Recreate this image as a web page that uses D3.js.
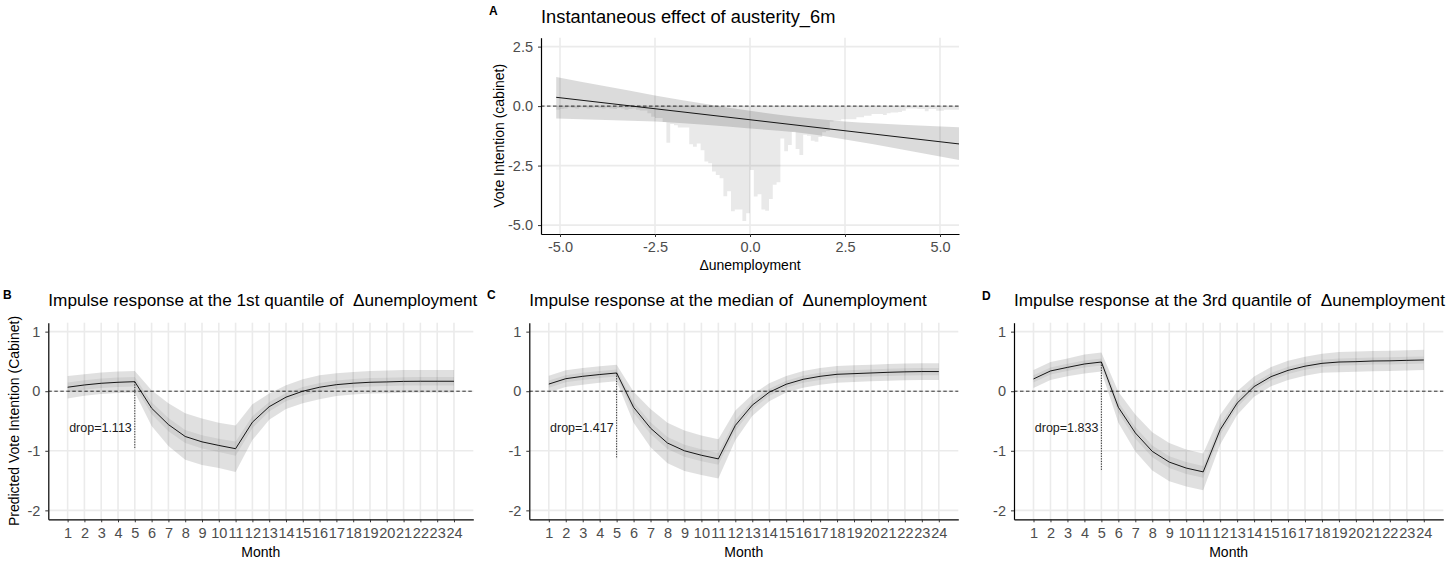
<!DOCTYPE html>
<html><head><meta charset="utf-8">
<script src="https://cdn.jsdelivr.net/npm/d3@7"></script>
<style>
html,body{margin:0;padding:0;background:#fff;}
svg{display:block;}
text{white-space:pre;}
</style></head><body>
<svg id="chart" width="1446" height="562"></svg>
<script>
// ---------------- DATA ----------------
// Panel A: instantaneous effect
const effectX = [-5.1, 5.5];
const effectY = [0.37, -1.59];
const bandX     = [-5.1, -3.8, -2.5, -1.2, 0, 1.2, 2.5, 4, 5.5];
const bandUpper = [1.22, 0.83, 0.45, 0.1, -0.2, -0.45, -0.65, -0.78, -0.89];
const bandLower = [-0.52, -0.58, -0.65, -0.78, -0.94, -1.1, -1.4, -1.82, -2.27];
// histogram of Δunemployment (drawn hanging below 0), bins of 0.1 from -5.1
const histStart = -5.1;
const histWidth = 0.1;
const histDepth = [
  0.15,0.12,0.1,0.05,0.08,0.1,0.05,0.06,0.1,0.08,0.05,
  0.08,0.1,0.06,0.1,0.12,0.08,0.1,0.15,0.12,0.1,
  0.15,0.18,0.18,0.3,0.45,0.5,0.5,0.67,1.54,0.75,
  0.8,0.9,0.9,0.9,1.6,1.71,1.57,1.85,2.33,2.4,
  2.75,2.9,3.03,3.79,3.58,4.42,4.35,4.35,4.83,4.5,
  2.68,3.8,3.7,4.35,4.4,3.9,3.3,3.2,1.36,1.9,
  1.63,1.08,1.8,2.05,1.2,1.25,1.46,1.5,1.3,1.1,
  1.05,0.65,0.6,0.6,0.55,0.55,0.55,0.55,0.47,0.47,
  0.4,0.4,0.33,0.33,0.33,0.37,0.3,0.27,0.27,0.25,
  0.2,0.1,0.1,0.1,0.12,0.12,0.22,0.12,0.12,0.2,
  0.2,0.15,0.15,0.15,0.15
];
const aXTicks = [-5, -2.5, 0, 2.5, 5];
const aYTicks = [2.5, 0, -2.5, -5];

// Panels B, C, D: impulse responses
const months = [1,2,3,4,5,6,7,8,9,10,11,12,13,14,15,16,17,18,19,20,21,22,23,24];
const irfYTicks = [1, 0, -1, -2];

const irfB = [0.067,0.105,0.133,0.15,0.16,-0.285,-0.56,-0.76,-0.85,-0.91,-0.965,-0.52,-0.26,-0.1,0.0,0.067,0.11,0.134,0.15,0.156,0.165,0.167,0.167,0.167];
const outerB = [0.19,0.18,0.18,0.18,0.18,0.3,0.36,0.39,0.39,0.38,0.39,0.3,0.22,0.2,0.2,0.2,0.19,0.19,0.19,0.19,0.19,0.19,0.19,0.19];
const innerB = [0.08,0.08,0.08,0.08,0.08,0.1,0.11,0.11,0.11,0.11,0.12,0.1,0.08,0.07,0.07,0.07,0.07,0.07,0.07,0.07,0.07,0.07,0.07,0.07];

const irfC = [0.12,0.21,0.25,0.28,0.306,-0.27,-0.62,-0.87,-1.0,-1.075,-1.136,-0.574,-0.234,-0.017,0.117,0.2,0.25,0.284,0.295,0.306,0.317,0.325,0.33,0.33];
const outerC = [0.14,0.14,0.14,0.14,0.14,0.26,0.32,0.34,0.34,0.33,0.33,0.25,0.18,0.15,0.14,0.14,0.14,0.14,0.14,0.14,0.14,0.14,0.14,0.14];
const innerC = [0.06,0.06,0.06,0.06,0.06,0.09,0.1,0.1,0.1,0.1,0.1,0.09,0.07,0.06,0.06,0.06,0.06,0.06,0.06,0.06,0.06,0.06,0.06,0.06];

const irfD = [0.206,0.34,0.40,0.457,0.49,-0.27,-0.70,-1.01,-1.19,-1.29,-1.354,-0.646,-0.2,0.078,0.245,0.35,0.42,0.468,0.49,0.496,0.507,0.51,0.518,0.524];
const outerD = [0.15,0.15,0.15,0.16,0.16,0.26,0.31,0.32,0.32,0.31,0.31,0.25,0.2,0.17,0.16,0.16,0.16,0.16,0.17,0.17,0.17,0.17,0.17,0.17];
const innerD = [0.06,0.06,0.06,0.06,0.06,0.09,0.1,0.1,0.1,0.1,0.1,0.09,0.07,0.06,0.06,0.06,0.06,0.06,0.06,0.06,0.06,0.06,0.06,0.06];

const panelLetters = ["A", "B", "C", "D"];
const titles = [
  "Instantaneous effect of austerity_6m",
  "Impulse response at the 1st quantile of  \u0394unemployment",
  "Impulse response at the median of  \u0394unemployment",
  "Impulse response at the 3rd quantile of  \u0394unemployment"
];
const drops = [1.113, 1.417, 1.833];
const dropMonth = 5;

// ---------------- DRAWING ----------------
const FONT = '"Liberation Sans", Arial, Helvetica, sans-serif';
const svg = d3.select('#chart');

function frame(p, x, y, xTicks, yTicks) {
  const g = svg.append('g');
  g.selectAll(null).data(yTicks).join('line')
    .attr('x1', p.left).attr('x2', p.right)
    .attr('y1', d => y(d)).attr('y2', d => y(d))
    .attr('stroke', '#ebebeb').attr('stroke-width', 1.6);
  g.selectAll(null).data(xTicks).join('line')
    .attr('x1', d => x(d)).attr('x2', d => x(d))
    .attr('y1', p.top).attr('y2', p.bottom)
    .attr('stroke', '#ebebeb').attr('stroke-width', 1.6);
  return g;
}

function axes(p, x, y, xTicks, yTicks, xFmt, yFmt) {
  const gx = svg.append('g').attr('transform', `translate(0,${p.bottom})`)
    .call(d3.axisBottom(x).tickValues(xTicks).tickFormat(xFmt).tickSize(3).tickSizeOuter(0).tickPadding(5));
  const gy = svg.append('g').attr('transform', `translate(${p.left},0)`)
    .call(d3.axisLeft(y).tickValues(yTicks).tickFormat(yFmt).tickSize(3).tickSizeOuter(0).tickPadding(5));
  [gx, gy].forEach(a => {
    a.attr('font-size', 14.5).attr('font-family', FONT);
    a.select('.domain').attr('stroke', '#000').attr('stroke-width', 1.2);
    a.selectAll('.tick line').attr('stroke', '#333').attr('stroke-width', 1);
    a.selectAll('.tick text').attr('fill', '#4d4d4d');
  });
}

function zeroLine(p, y) {
  svg.append('line').attr('x1', p.left).attr('x2', p.right)
    .attr('y1', y(0)).attr('y2', y(0))
    .attr('stroke', '#000').attr('stroke-width', 0.8).attr('stroke-dasharray', '3.5,2.5');
}

function txt(x, y, s, opts = {}) {
  const t = svg.append('text').attr('x', x).attr('y', y).text(s)
    .attr('font-family', FONT).attr('font-size', opts.size || 15)
    .attr('fill', opts.fill || '#000');
  if (opts.anchor) t.attr('text-anchor', opts.anchor);
  if (opts.weight) t.attr('font-weight', opts.weight);
  if (opts.rotate) t.attr('transform', `rotate(-90,${x},${y})`);
  return t;
}

// ---- Panel A ----
{
  const p = {left: 541, right: 959, top: 37.7, bottom: 234};
  const x = d3.scaleLinear().domain([-5.5, 5.5]).range([p.left, p.right]);
  const y = d3.scaleLinear().domain([-5.375, 2.875]).range([p.bottom, p.top]);
  const fmt = d => d.toFixed(1);
  frame(p, x, y, aXTicks, aYTicks);
  const clipId = 'clipA';
  svg.append('clipPath').attr('id', clipId).append('rect')
    .attr('x', p.left).attr('y', p.top).attr('width', p.right - p.left).attr('height', p.bottom - p.top);
  const gc = svg.append('g').attr('clip-path', `url(#${clipId})`);
  // histogram as one step shape
  const hist = histDepth.map((d, i) => ({x0: histStart + i * histWidth, d}));
  hist.push({x0: histStart + histDepth.length * histWidth, d: histDepth[histDepth.length - 1]});
  gc.append('path').datum(hist)
    .attr('d', d3.area().curve(d3.curveStepAfter).x(d => x(d.x0)).y0(y(0)).y1(d => y(-d.d)))
    .attr('fill', '#000').attr('fill-opacity', 0.085);
  // ribbon
  gc.append('path').datum(bandX.map((v, i) => [v, bandLower[i], bandUpper[i]]))
    .attr('d', d3.area().curve(d3.curveMonotoneX).x(d => x(d[0])).y0(d => y(d[1])).y1(d => y(d[2])))
    .attr('fill', '#000').attr('fill-opacity', 0.14);
  zeroLine(p, y);
  gc.append('path').datum(effectX.map((v, i) => [v, effectY[i]]))
    .attr('d', d3.line().x(d => x(d[0])).y(d => y(d[1])))
    .attr('fill', 'none').attr('stroke', '#000').attr('stroke-width', 0.9);
  axes(p, x, y, aXTicks, aYTicks, fmt, fmt);
  txt(489, 15, panelLetters[0], {size: 12, weight: 'bold'});
  txt(p.left, 23.3, titles[0], {size: 18.3});
  txt((p.left + p.right) / 2, 270, '\u0394unemployment', {size: 14, anchor: 'middle'});
  txt(504, (p.top + p.bottom) / 2, 'Vote Intention (cabinet)', {size: 14, anchor: 'middle', rotate: true});
}

// ---- Panels B, C, D ----
const irfPanels = [
  {p: {left: 48.3, right: 473.3, top: 322.7, bottom: 519.3}, v: irfB, outer: outerB, inner: innerB, letterX: 3, letterY: 299},
  {p: {left: 529.3, right: 958.3, top: 322.7, bottom: 519.3}, v: irfC, outer: outerC, inner: innerC, letterX: 487, letterY: 299},
  {p: {left: 1014, right: 1443.3, top: 322.7, bottom: 519.3}, v: irfD, outer: outerD, inner: innerD, letterX: 982, letterY: 300}
];

irfPanels.forEach((P, k) => {
  const p = P.p;
  const x = d3.scaleLinear().domain([-0.15, 25.15]).range([p.left, p.right]);
  const y = d3.scaleLinear().domain([-2.15, 1.15]).range([p.bottom, p.top]);
  frame(p, x, y, months, irfYTicks);
  const rows = months.map((m, i) => ({m, v: P.v[i], o: P.outer[i], n: P.inner[i]}));
  svg.append('path').datum(rows)
    .attr('d', d3.area().x(d => x(d.m)).y0(d => y(d.v - d.o)).y1(d => y(d.v + d.o)))
    .attr('fill', '#000').attr('fill-opacity', 0.12);
  svg.append('path').datum(rows)
    .attr('d', d3.area().x(d => x(d.m)).y0(d => y(d.v - d.n)).y1(d => y(d.v + d.n)))
    .attr('fill', '#000').attr('fill-opacity', 0.065);
  zeroLine(p, y);
  svg.append('path').datum(rows)
    .attr('d', d3.line().x(d => x(d.m)).y(d => y(d.v)))
    .attr('fill', 'none').attr('stroke', '#000').attr('stroke-width', 0.9);
  const v5 = P.v[months.indexOf(dropMonth)];
  svg.append('line').attr('x1', x(dropMonth)).attr('x2', x(dropMonth))
    .attr('y1', y(v5)).attr('y2', y(v5 - drops[k]))
    .attr('stroke', '#000').attr('stroke-width', 0.8).attr('stroke-dasharray', '1.3,1.3');
  txt(x(dropMonth) - 3, y(-0.69), 'drop=' + drops[k].toFixed(3), {size: 12.5, anchor: 'end', fill: '#1a1a1a'});
  axes(p, x, y, months, irfYTicks, d => String(d), d => String(d));
  txt(P.letterX, P.letterY, panelLetters[k + 1], {size: 12, weight: 'bold'});
  txt(p.left, 306, titles[k + 1], {size: 17.2});
  txt((p.left + p.right) / 2, 556.7, 'Month', {size: 14, anchor: 'middle'});
  if (k === 0) {
    txt(19.3, (p.top + p.bottom) / 2, 'Predicted Vote Intention (Cabinet)', {size: 14, anchor: 'middle', rotate: true});
  }
});
</script>
</body></html>
